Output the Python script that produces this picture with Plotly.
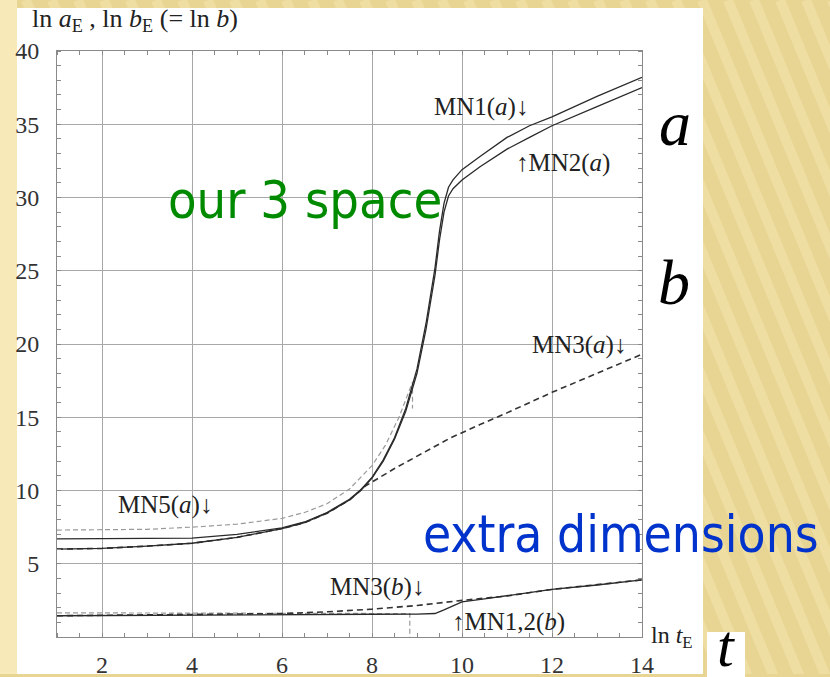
import plotly.graph_objects as go

# ---- scale factors ln a_E (our 3-space) vs ln t_E ----
t_a = [1, 2, 3, 4, 5, 6, 6.5, 7, 7.5, 7.75, 8, 8.25, 8.5, 8.75, 9, 9.2, 9.4, 9.5,
       9.6, 9.7, 9.8, 10, 10.4, 11, 11.5, 12, 13, 14]
mn1_a = [6.7, 6.7, 6.7, 6.75, 7.0, 7.45, 7.85, 8.5, 9.4, 10.05, 10.9, 12.1, 13.6,
         15.6, 18.3, 21.4, 25.2, 27.7, 29.6, 30.7, 31.2, 31.9, 32.8, 34.1, 34.9,
         35.5, 36.9, 38.2]
mn2_a = [6.0, 6.05, 6.2, 6.4, 6.8, 7.4, 7.8, 8.45, 9.35, 10.0, 10.85, 12.0, 13.5,
         15.4, 18.0, 21.0, 24.7, 27.1, 29.0, 30.1, 30.6, 31.2, 32.1, 33.3, 34.1,
         34.9, 36.2, 37.5]

t_mn3a = [1, 2, 3, 4, 5, 6, 6.5, 7, 7.5, 7.85, 8.5, 9.2, 9.75, 10.4, 11, 12, 13, 14]
mn3_a = [6.0, 6.05, 6.2, 6.4, 6.8, 7.4, 7.8, 8.45, 9.35, 10.3, 11.5, 12.7, 13.6,
         14.5, 15.3, 16.7, 18.0, 19.3]

t_mn5a = [1, 2, 3, 4, 5, 6, 6.5, 7, 7.5, 8, 8.3, 8.6, 8.9, 8.9]
mn5_a = [7.3, 7.3, 7.35, 7.5, 7.7, 8.1, 8.5, 9.1, 10.1, 11.7, 13.1, 15.0, 17.4, 15.6]

# ---- extra dimensions ln b_E ----
t_b = [1, 2, 4, 6, 8, 9, 9.4, 9.6, 9.8, 10, 10.5, 11, 12, 13, 14]
mn12_b = [1.45, 1.47, 1.5, 1.52, 1.55, 1.56, 1.6, 1.85, 2.15, 2.4, 2.6, 2.8, 3.25,
          3.55, 3.9]

t_mn3b = [1, 2, 3, 4, 5, 6, 7, 8, 9, 9.6, 10, 10.5, 11, 12, 13, 14]
mn3_b = [1.45, 1.47, 1.5, 1.52, 1.55, 1.6, 1.72, 1.9, 2.15, 2.38, 2.5, 2.65, 2.8,
         3.25, 3.55, 3.9]

t_mn5b = [1, 2, 4, 6, 8, 8.84, 8.84]
mn5_b = [1.65, 1.65, 1.63, 1.6, 1.6, 1.6, 0]

x_ticks = [2, 4, 6, 8, 10, 12, 14]
y_ticks = [5, 10, 15, 20, 25, 30, 35, 40]

W, H = 830, 677
L, R, T, B = 57, 642, 51, 637


def px(x):
    return (x - L) / (R - L)


def py(y):
    return (B - y) / (B - T)


SOLID = "#2a2a2a"
DARK_DASH = "#333333"
GRAY_DASH = "#9a9a9a"

fig = go.Figure()
fig.add_trace(go.Scatter(x=t_mn5a, y=mn5_a, mode="lines",
                         line=dict(color=GRAY_DASH, width=1.2, dash="5px,3px")))
fig.add_trace(go.Scatter(x=t_mn5b, y=mn5_b, mode="lines",
                         line=dict(color=GRAY_DASH, width=1.2, dash="5px,3px")))
fig.add_trace(go.Scatter(x=t_mn3a, y=mn3_a, mode="lines",
                         line=dict(color=DARK_DASH, width=1.6, dash="6px,4px")))
fig.add_trace(go.Scatter(x=t_mn3b, y=mn3_b, mode="lines",
                         line=dict(color=DARK_DASH, width=1.6, dash="6px,4px")))
fig.add_trace(go.Scatter(x=t_a, y=mn1_a, mode="lines",
                         line=dict(color=SOLID, width=1.3)))
fig.add_trace(go.Scatter(x=t_a, y=mn2_a, mode="lines",
                         line=dict(color=SOLID, width=1.3)))
fig.add_trace(go.Scatter(x=t_b, y=mn12_b, mode="lines",
                         line=dict(color=SOLID, width=1.4)))

shapes = []
# striped slide background
for k in range(-20, 40):
    x0 = k * 26
    shapes.append(dict(type="line", xref="paper", yref="paper",
                       x0=px(x0), y0=py(0), x1=px(x0 + 280), y1=py(H),
                       line=dict(color="rgba(246,234,186,0.4)", width=10),
                       layer="below"))
# lighter left edge
shapes.append(dict(type="rect", xref="paper", yref="paper",
                   x0=px(0), x1=px(17), y0=py(0), y1=py(H),
                   fillcolor="#f8e9b8", line=dict(width=0), layer="below"))
# white panel behind the chart
shapes.append(dict(type="rect", xref="paper", yref="paper",
                   x0=px(17), x1=px(703), y0=py(8), y1=py(674),
                   fillcolor="white", line=dict(width=0), layer="below"))
# bottom border strip
shapes.append(dict(type="rect", xref="paper", yref="paper",
                   x0=px(0), x1=px(W), y0=py(674), y1=py(H + 2),
                   fillcolor="#e8d493", line=dict(width=0), layer="above"))
# white box behind the time symbol
shapes.append(dict(type="rect", xref="paper", yref="paper",
                   x0=px(707), x1=px(745), y0=py(632), y1=py(H + 2),
                   fillcolor="white", line=dict(width=0), layer="above"))

serif = "Liberation Serif, Times New Roman, serif"
lab = dict(family=serif, size=25, color="#222")
narrow = "DejaVu Sans Condensed, Liberation Sans Narrow, Roboto, sans-serif"


def note(x, y, text, font, ref="x", **kw):
    d = dict(x=x, y=y, text=text, showarrow=False, font=font,
             xanchor="center", yanchor="middle")
    if ref == "paper":
        d.update(xref="paper", yref="paper")
    d.update(kw)
    return d


annotations = [
    note(10.42, 36.2, "MN1(<i>a</i>)<b>↓</b>", lab),
    note(12.24, 32.35, "<b>↑</b>MN2(<i>a</i>)", lab),
    note(12.6, 19.93, "MN3(<i>a</i>)<b>↓</b>", lab),
    note(3.4, 9.01, "MN5(<i>a</i>)<b>↓</b>", lab),
    note(8.11, 3.41, "MN3(<i>b</i>)<b>↓</b>", lab),
    note(11.04, 1.02, "<b>↑</b>MN1,2(<i>b</i>)", lab),
    note(9.87, -0.89, "<b>↑</b>MN5(<i>a</i>)", lab),
    # axis titles
    note(px(30), py(20),
         "ln <i>a</i><sub>E</sub> , ln <i>b</i><sub>E</sub> (= ln <i>b</i>)",
         dict(family=serif, size=26, color="#222"), ref="paper", xanchor="left"),
    note(px(649), py(637), "ln <i>t</i><sub>E</sub>",
         dict(family=serif, size=24, color="#222"), ref="paper", xanchor="left"),
    # overlay captions
    note(px(305), py(200), "our 3 space",
         dict(family=narrow, size=52, color="#008a00"), ref="paper"),
    note(px(621), py(534), "extra dimensions",
         dict(family=narrow, size=51, color="#0033cc"), ref="paper"),
    note(px(675), py(123), "<i>a</i>",
         dict(family=serif, size=64, color="black"), ref="paper"),
    note(px(674), py(282), "<i>b</i>",
         dict(family=serif, size=64, color="black"), ref="paper"),
    note(px(726), py(646), "<i>t</i>",
         dict(family=serif, size=60, color="black"), ref="paper"),
]

axis_common = dict(
    showline=True, linecolor="#8a8a8a", linewidth=1, mirror="allticks",
    showgrid=True, gridcolor="#a8a8a8", gridwidth=1, zeroline=False,
    ticks="", automargin=False,
    tickfont=dict(family=serif, size=24, color="#333"),
)

fig.update_layout(
    width=W, height=H,
    margin=dict(l=L, r=W - R, t=T, b=H - B, autoexpand=False),
    paper_bgcolor="#e9d593", plot_bgcolor="white",
    showlegend=False,
    xaxis=dict(range=[1, 14], tickvals=x_ticks, ticklabelstandoff=6,
               minor=dict(dtick=0.5, tick0=0, ticks="inside", ticklen=4,
                          tickcolor="#8a8a8a", showgrid=False),
               **axis_common),
    yaxis=dict(range=[0, 40], tickvals=y_ticks, ticklabelstandoff=12,
               minor=dict(dtick=1, tick0=0, ticks="inside", ticklen=4,
                          tickcolor="#8a8a8a", showgrid=False),
               **axis_common),
    shapes=shapes,
    annotations=annotations,
)

fig.write_html("out.html")
